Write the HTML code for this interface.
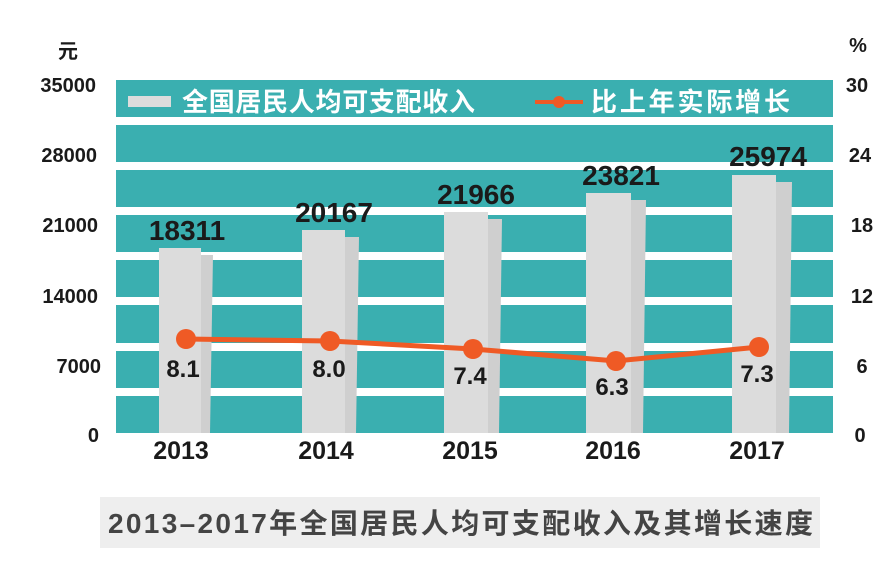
<!DOCTYPE html>
<html><head><meta charset="utf-8"><style>
html,body{margin:0;padding:0;background:#fff;}
svg{display:block;}
text{font-family:"Liberation Sans","Noto Sans CJK SC",sans-serif;font-weight:bold;}
</style></head><body>
<svg width="896" height="568" viewBox="0 0 896 568" xmlns="http://www.w3.org/2000/svg">
<rect width="896" height="568" fill="#fff"/>
<g fill="#3aafb0">
<rect x="116" y="80" width="717" height="37"/>
<rect x="116" y="125" width="717" height="37"/>
<rect x="116" y="170" width="717" height="37"/>
<rect x="116" y="215" width="717" height="37"/>
<rect x="116" y="260" width="717" height="37"/>
<rect x="116" y="305" width="717" height="38"/>
<rect x="116" y="351" width="717" height="37"/>
<rect x="116" y="396" width="717" height="37"/>
</g>
<g>
<rect x="159" y="248" width="42" height="185" fill="#dcdcdc"/><polygon points="201,255 213,255 210,433 201,433" fill="#cfcfcf"/>
<rect x="302" y="230" width="43" height="203" fill="#dcdcdc"/><polygon points="345,237 359,237 356,433 345,433" fill="#cfcfcf"/>
<rect x="444" y="212" width="44" height="221" fill="#dcdcdc"/><polygon points="488,219 502,219 499,433 488,433" fill="#cfcfcf"/>
<rect x="586" y="193" width="45" height="240" fill="#dcdcdc"/><polygon points="631,200 646,200 643,433 631,433" fill="#cfcfcf"/>
<rect x="732" y="175" width="44" height="258" fill="#dcdcdc"/><polygon points="776,182 792,182 789,433 776,433" fill="#cfcfcf"/>
</g>
<rect x="128" y="96" width="43" height="11" fill="#dcdcdc"/>
<text x="182" y="111" font-size="26" fill="#fff" textLength="293" lengthAdjust="spacing">全国居民人均可支配收入</text>
<line x1="535" y1="102" x2="583" y2="102" stroke="#ef5a25" stroke-width="4"/>
<circle cx="559" cy="102" r="6" fill="#ef5a25"/>
<text x="591" y="111" font-size="26" fill="#fff" textLength="199" lengthAdjust="spacing">比上年实际增长</text>
<g font-size="28" fill="#1a1a1a" text-anchor="middle">
<text x="187" y="240">18311</text>
<text x="334" y="222">20167</text>
<text x="476" y="204">21966</text>
<text x="621" y="185">23821</text>
<text x="768" y="166">25974</text>
</g>
<polyline points="186,339 330,341 473,349 616,361 759,347" fill="none" stroke="#ef5a25" stroke-width="5"/>
<g fill="#ef5a25">
<circle cx="186" cy="339" r="10"/><circle cx="330" cy="341" r="10"/><circle cx="473" cy="349" r="10"/><circle cx="616" cy="361" r="10"/><circle cx="759" cy="347" r="10"/>
</g>
<g font-size="24" fill="#1a1a1a" text-anchor="middle">
<text x="183" y="377">8.1</text>
<text x="329" y="377">8.0</text>
<text x="470" y="384">7.4</text>
<text x="612" y="395">6.3</text>
<text x="757" y="382">7.3</text>
</g>
<g font-size="25" fill="#1a1a1a" text-anchor="middle">
<text x="181" y="459">2013</text>
<text x="326" y="459">2014</text>
<text x="470" y="459">2015</text>
<text x="613" y="459">2016</text>
<text x="757" y="459">2017</text>
</g>
<g font-size="20" fill="#1a1a1a" text-anchor="end">
<text x="96" y="92">35000</text>
<text x="97" y="162">28000</text>
<text x="98" y="232">21000</text>
<text x="98" y="303">14000</text>
<text x="101" y="373">7000</text>
<text x="99" y="442">0</text>
</g>
<text x="68" y="58" font-size="20" fill="#1a1a1a" text-anchor="middle">元</text>
<g font-size="20" fill="#1a1a1a" text-anchor="middle">
<text x="858" y="52">%</text>
<text x="857" y="92">30</text>
<text x="860" y="162">24</text>
<text x="862" y="232">18</text>
<text x="862" y="303">12</text>
<text x="862" y="373">6</text>
<text x="860" y="442">0</text>
</g>
<rect x="100" y="497" width="720" height="51" fill="#eeeeee"/>
<text x="108" y="533" font-size="28" fill="#444" textLength="705" lengthAdjust="spacing">2013–2017年全国居民人均可支配收入及其增长速度</text>
</svg>
</body></html>
